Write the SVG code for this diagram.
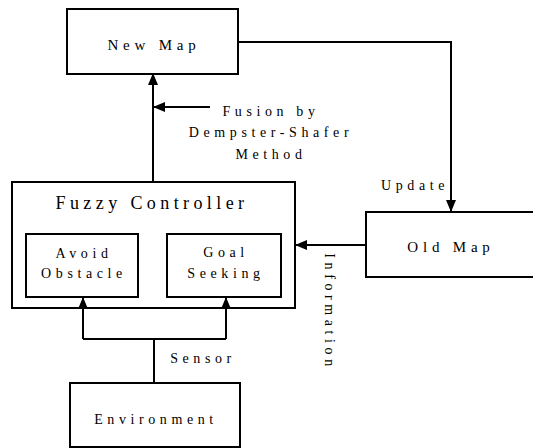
<svg xmlns="http://www.w3.org/2000/svg" width="533" height="448" viewBox="0 0 533 448">
<style>
.box{fill:#fff;stroke:#000;stroke-width:2}
.ln{fill:none;stroke:#000;stroke-width:2}
text{font-family:"Liberation Serif","Times New Roman",serif;font-size:14px;letter-spacing:4.6px;fill:#000;text-anchor:middle}
.big{font-size:15px;letter-spacing:4.8px}
.title{font-size:18px;letter-spacing:4.4px}
</style>
<defs>
<marker id="ah" markerWidth="12" markerHeight="10" refX="11" refY="5" orient="auto" markerUnits="userSpaceOnUse">
<path d="M0,0 L12,5 L0,10 Z" fill="#000"/>
</marker>
</defs>
<rect width="533" height="448" fill="#fff"/>
<g id="new-map">
<rect class="box" x="67" y="9" width="171" height="65"/>
<text class="big" x="154" y="50">New Map</text>
</g>
<g id="fuzzy-controller">
<rect class="box" x="12" y="182" width="283" height="126"/>
<text class="title" x="152" y="209">Fuzzy Controller</text>
</g>
<g id="avoid-obstacle">
<rect class="box" x="26" y="234" width="112" height="63"/>
<text x="84" y="258">Avoid</text>
<text x="84" y="278">Obstacle</text>
</g>
<g id="goal-seeking">
<rect class="box" x="167" y="234" width="114" height="63"/>
<text x="226" y="257">Goal</text>
<text x="226" y="278">Seeking</text>
</g>
<g id="old-map">
<path class="ln" d="M540,212 H366 V277 H540"/>
<text class="big" x="451" y="252">Old Map</text>
</g>
<g id="environment">
<rect class="box" x="70" y="383" width="170" height="64"/>
<text x="156" y="424">Environment</text>
</g>
<g id="connectors">
<path class="ln" d="M153,182 V74" marker-end="url(#ah)"/>
<path class="ln" d="M210,107 H154" marker-end="url(#ah)"/>
<path class="ln" d="M238,42 H451 V211" marker-end="url(#ah)"/>
<path class="ln" d="M366,245 H296" marker-end="url(#ah)"/>
<path class="ln" d="M154,382 V339"/>
<path class="ln" d="M83,339 H226"/>
<path class="ln" d="M83,339 V298" marker-end="url(#ah)"/>
<path class="ln" d="M226,339 V298" marker-end="url(#ah)"/>
</g>
<g id="labels">
<text x="271" y="116">Fusion by</text>
<text x="271" y="137">Dempster-Shafer</text>
<text x="271" y="159">Method</text>
<text x="415" y="190">Update</text>
<text x="203" y="363">Sensor</text>
<text transform="translate(325,312) rotate(90)">Information</text>
</g>
</svg>
